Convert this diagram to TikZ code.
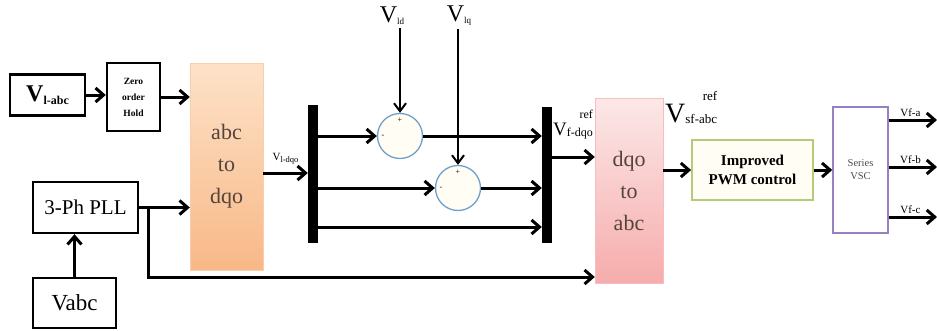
\documentclass[tikz,border=0pt]{standalone}
\usepackage{fontspec}
\setmainfont{Liberation Serif}
\usetikzlibrary{arrows.meta,calc}
\newcommand{\zohsz}{\fontsize{9.5pt}{16pt}\selectfont}
\newcommand{\pllsz}{\fontsize{21pt}{24pt}\selectfont}
\newcommand{\convsz}{\fontsize{22pt}{32pt}\selectfont}
\newcommand{\pwmsz}{\fontsize{15pt}{19pt}\selectfont}
\newcommand{\vscsz}{\fontsize{10.5pt}{13pt}\selectfont}
\newcommand{\lblsz}{\fontsize{11pt}{12pt}\selectfont}
%V with ref above and a subscript below
\newcommand{\refV}[4]{{\fontsize{#1}{#1}\selectfont V}\raisebox{-1pt}{\fontsize{#2}{#2}\selectfont #3}\llap{\raisebox{#4}{\fontsize{#2}{#2}\selectfont ref}}}
\definecolor{peachtop}{RGB}{253,226,200}
\definecolor{peachbot}{RGB}{248,184,135}
\definecolor{pinktop}{RGB}{252,232,232}
\definecolor{pinkbot}{RGB}{246,172,172}
\definecolor{sumblue}{RGB}{110,160,205}
\definecolor{sumfill}{RGB}{255,253,244}
\definecolor{pwmgreen}{RGB}{180,204,120}
\definecolor{vscpurple}{RGB}{150,130,195}
\definecolor{convtext}{RGB}{85,68,60}

\begin{document}
\begin{tikzpicture}[x=1pt,y=-1pt,
  box/.style={draw,line width=2.4pt,inner sep=0pt},
  sig/.style={line width=3pt,-{Straight Barb[length=8pt,width=14pt]}},
  thinsig/.style={line width=2pt,-{Straight Barb[length=8pt,width=12pt]}},
  sumnode/.style={circle,draw=sumblue,line width=1.3pt,fill=sumfill,minimum size=45pt,inner sep=0pt},
  bus/.style={fill=black,minimum width=10pt,inner sep=0pt}]
\useasboundingbox (0,0) rectangle (937,330);
%input blocks
\node[box,minimum width=75pt,minimum height=41pt] (vlabc) at (47.5,95) {\bfseries{\fontsize{24pt}{26pt}\selectfont V}\raisebox{-3pt}{\fontsize{12pt}{13pt}\selectfont l-abc}};
\node[box,minimum width=53pt,minimum height=68pt,align=center,font=\zohsz\bfseries] (zoh) at (133.5,97) {Zero\\order\\Hold};
\node[box,minimum width=105pt,minimum height=51pt,font=\pllsz] (pll) at (85.5,207.5) {3-Ph PLL};
\node[box,minimum width=83pt,minimum height=50pt,font=\fontsize{23pt}{26pt}\selectfont] (vabc) at (74.5,303) {Vabc};
%conversion blocks
\node[draw=peachbot!70,top color=peachtop,bottom color=peachbot,minimum width=73pt,minimum height=207pt,align=center,font=\convsz,text=convtext] (abcdqo) at (226.5,166.5) {abc\\to\\dqo};
\node[draw=pinkbot!80,top color=pinktop,bottom color=pinkbot,minimum width=68pt,minimum height=185pt,align=center,font=\convsz,text=convtext] (dqoabc) at (629,190.5) {dqo\\to\\abc};
%bus bars and summing points
\node[bus,minimum height=138pt] (bus1) at (313,174) {};
\node[bus,minimum height=136pt] (bus2) at (547,175) {};
\node[sumnode] (s1) at (400,136) {};
\node[sumnode] (s2) at (458,188) {};
\node[font=\fontsize{8pt}{9pt}\selectfont] (s1p) at ($(s1.north)+(0,7)$) {+};
\node[font=\fontsize{8pt}{9pt}\selectfont] (s1m) at ($(s1.west)+(6,0)$) {-};
\node[font=\fontsize{8pt}{9pt}\selectfont] (s2p) at ($(s2.north)+(0,7)$) {+};
\node[font=\fontsize{8pt}{9pt}\selectfont] (s2m) at ($(s2.west)+(6,0)$) {-};
\node (vld) at (392,16) {{\fontsize{24pt}{26pt}\selectfont V}\raisebox{-2pt}{\fontsize{9pt}{10pt}\selectfont ld}};
\node (vlq) at (459,16) {{\fontsize{24pt}{26pt}\selectfont V}\raisebox{-2pt}{\fontsize{9pt}{10pt}\selectfont lq}};
%output blocks
\node[draw=pwmgreen,line width=1.8pt,fill=sumfill,minimum width=121pt,minimum height=60pt,align=center,font=\pwmsz\bfseries] (pwm) at (752.5,170) {Improved\\PWM control};
\node[draw=vscpurple,line width=1.4pt,minimum width=55pt,minimum height=126pt,align=center,font=\vscsz,text=black!70] (vsc) at (860.5,170) {Series\\VSC};
\node[anchor=base west,inner sep=0pt] (vfdqo) at (553,135) {\refV{19pt}{12pt}{f-dqo}{17pt}};
\node[anchor=base west,inner sep=0pt] (vsfabc) at (665,122) {\refV{28pt}{13pt}{sf-abc}{22pt}};
%helper points
\coordinate (br) at (148,207.5);
\coordinate (lowrun) at (148,277);
\coordinate (ldq) at (280,173);
\coordinate (lowbus) at (330,227);
\coordinate (fdq) at (560,157);
%connectors
\draw[sig] (vlabc.east) -- (vlabc.east -| zoh.west);
\draw[sig] (zoh.east) -- (zoh.east -| abcdqo.west);
\draw[sig] (vabc.north) -- (vabc.north |- pll.south);
\draw[sig] (pll.east) -- (pll.east -| abcdqo.west);
\draw[sig] (br) -- (lowrun) -- (lowrun -| dqoabc.west);
\draw[sig] (abcdqo.east |- ldq) -- (ldq -| bus1.west) node[midway,above=4pt,font=\fontsize{11pt}{12pt}\selectfont] {V\raisebox{-1.5pt}{\fontsize{8.5pt}{9pt}\selectfont l-dqo}};
\draw[sig] (bus1.east |- s1) -- (s1);
\draw[sig] (bus1.east |- s2) -- (s2);
\draw[sig] (bus1.east |- lowbus) -- (bus2.west |- lowbus);
\draw[sig] (s1) -- (bus2.west |- s1);
\draw[sig] (s2) -- (bus2.west |- s2);
\draw[thinsig] (vld.south -| s1) -- (s1);
\draw[thinsig] (vlq.south -| s2) -- (s2);
\draw[sig] (bus2.east |- fdq) -- (fdq -| dqoabc.west);
\draw[sig] (dqoabc.east |- pwm) -- (pwm);
\draw[sig] (pwm) -- (vsc);
\foreach \yy/\ph in {120/a,167/b,217/c}
{
  \coordinate (out\ph) at (937,\yy);
  \draw[sig] (vsc.east |- out\ph) -- (out\ph) node[pos=0.45,above=-1pt,font=\lblsz] {Vf-\ph};
}
\end{tikzpicture}
\end{document}
